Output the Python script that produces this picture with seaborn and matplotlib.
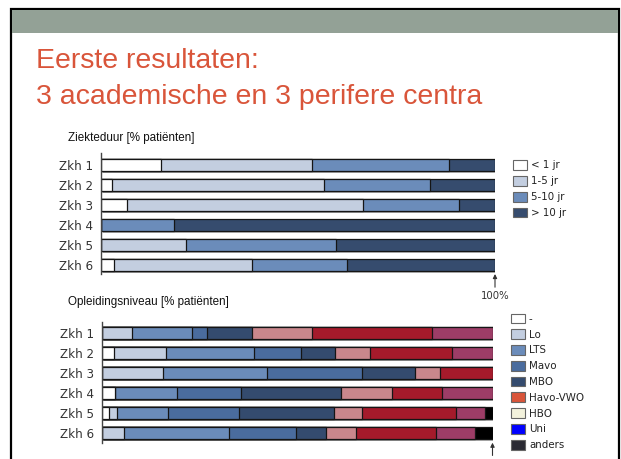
import matplotlib
matplotlib.use("Agg")
import matplotlib.pyplot as plt
import matplotlib.patheffects as pe
from matplotlib.patches import Patch, Rectangle
import seaborn as sns
import numpy as np

# ---------------- data ----------------
hospitals = ["Zkh 1", "Zkh 2", "Zkh 3", "Zkh 4", "Zkh 5", "Zkh 6"]

# Ziekteduur [% patiënten]
dur_labels = ["< 1 jr", "1-5 jr", "5-10 jr", "> 10 jr"]
dur_lt1 = [15.2, 2.9, 6.6, 0.0, 0.0, 3.3]
dur_1_5 = [38.4, 53.7, 60.0, 0.0, 21.7, 35.1]
dur_5_10 = [34.8, 26.8, 24.3, 18.7, 38.1, 24.2]
dur_gt10 = [11.6, 16.6, 9.1, 81.3, 40.2, 37.4]
dur_colors = ["#ffffff", "#c3cee0", "#6b8cba", "#364c6e"]

# Opleidingsniveau [% patiënten]
edu_labels = ["-", "Lo", "LTS", "Mavo", "MBO", "Havo-VWO", "HBO", "Uni", "anders"]
edu_none = [0.0, 3.0, 0.0, 3.3, 1.9, 0.0]
edu_lo = [7.6, 13.4, 15.5, 0.0, 2.0, 5.6]
edu_lts = [15.4, 22.4, 26.8, 16.0, 12.9, 27.0]
edu_mavo = [3.9, 12.1, 24.4, 16.2, 18.4, 17.0]
edu_mbo = [11.4, 8.8, 13.4, 25.8, 24.2, 7.8]
edu_havo = [15.5, 9.0, 6.5, 12.9, 7.3, 7.7]
edu_hbo = [30.8, 20.9, 13.4, 12.9, 23.9, 20.4]
edu_uni = [15.4, 10.4, 0.0, 12.9, 7.5, 9.9]
edu_anders = [0.0, 0.0, 0.0, 0.0, 1.9, 4.6]
edu_bar_colors = ["#ffffff", "#c3cee0", "#6b8cba", "#4a6c9e", "#344b6e",
                  "#c9878c", "#a51a2b", "#9d3d67", "#000000"]
edu_legend_colors = ["#ffffff", "#c3cee0", "#6b8cba", "#4a6c9e", "#344b6e",
                     "#d9553a", "#f3f2dc", "#0000ff", "#2a2a33"]

# ---------------- figure ----------------
sns.set_theme(style="white")
plt.rcParams["font.family"] = ["DejaVu Sans"]

W, H = 621, 459
fig = plt.figure(figsize=(W / 100, H / 100), dpi=100)
fig.patch.set_facecolor("white")


def fx(px):
    return px / W


def fy(py):
    return 1 - py / H


# slide frame and header band
fig.patches.append(Rectangle((fx(11), fy(475)), (618.5 - 11) / W, (475 - 9) / H,
                             transform=fig.transFigure, fill=False,
                             edgecolor="black", lw=1.6, zorder=0))
fig.patches.append(Rectangle((fx(12), fy(33)), (618 - 12) / W, (33 - 10) / H,
                             transform=fig.transFigure, facecolor="#93a196",
                             edgecolor="none", zorder=0))

title_color = "#d9553a"
fig.text(fx(36), fy(68), "Eerste resultaten:", fontsize=20.5, color=title_color,
         family=["Liberation Sans", "DejaVu Sans"], va="baseline")
fig.text(fx(36), fy(104), "3 academische en 3 perifere centra", fontsize=20.5,
         color=title_color, family=["Liberation Sans", "DejaVu Sans"], va="baseline")

fig.text(fx(68), fy(138), "Ziekteduur [% patiënten]", fontsize=8.4, color="#111111",
         family=["Liberation Sans", "DejaVu Sans"], va="center")
fig.text(fx(68), fy(302), "Opleidingsniveau [% patiënten]", fontsize=8.4, color="#111111",
         family=["Liberation Sans", "DejaVu Sans"], va="center")


def stacked(ax, series, colors):
    arr = np.array(series, dtype=float)
    cum = np.cumsum(arr, axis=0)
    first = True
    for k in range(len(series) - 1, -1, -1):
        n_before = len(ax.patches)
        sns.barplot(x=cum[k], y=hospitals, orient="h", color=colors[k],
                    saturation=1, edgecolor="#151515", linewidth=0.9,
                    width=0.6, ax=ax)
        if first:
            for p in ax.patches[n_before:]:
                p.set_path_effects([pe.SimplePatchShadow(offset=(1.4, -1.6),
                                                         shadow_rgbFace="#9a9a9a",
                                                         alpha=0.7),
                                    pe.Normal()])
            first = False
    ax.set_xlim(0, 100)
    ax.set_xlabel("")
    ax.set_ylabel("")
    ax.set_xticks([])
    for s in ["top", "right", "bottom"]:
        ax.spines[s].set_visible(False)
    ax.spines["left"].set_color("#444444")
    ax.spines["left"].set_linewidth(1.0)
    ax.tick_params(axis="y", length=0, pad=5.5, labelsize=8.6, labelcolor="#333333")
    ax.set_facecolor("none")


ax1 = fig.add_axes([fx(100.6), fy(274), (495 - 100.6) / W, (274 - 153) / H])
stacked(ax1, [dur_lt1, dur_1_5, dur_5_10, dur_gt10], dur_colors)
ax1.set_ylim(5.47, -0.58)

ax2 = fig.add_axes([fx(102), fy(442.7), (492.5 - 102) / W, (442.7 - 321.7) / H])
stacked(ax2, [edu_none, edu_lo, edu_lts, edu_mavo, edu_mbo, edu_havo, edu_hbo,
              edu_uni, edu_anders], edu_bar_colors)
ax2.set_ylim(5.5, -0.55)

# 100% arrows
arrow_kw = dict(arrowstyle="-|>", color="#333333", lw=0.8, mutation_scale=6,
                shrinkA=0, shrinkB=0)
ax1.annotate("", xy=(100, 0), xycoords=("data", "axes fraction"),
             xytext=(0, -9.5), textcoords="offset points", arrowprops=arrow_kw,
             annotation_clip=False)
ax1.annotate("100%", xy=(100, 0), xycoords=("data", "axes fraction"),
             xytext=(0, -16), textcoords="offset points", ha="center", va="center",
             fontsize=7.3, color="#333333", annotation_clip=False)
ax2.annotate("", xy=(100, 0), xycoords=("data", "axes fraction"),
             xytext=(0, -9.2), textcoords="offset points", arrowprops=arrow_kw,
             annotation_clip=False)

# legends
leg_kw = dict(loc="upper left", frameon=False, fontsize=7.4, borderpad=0,
              borderaxespad=0, handlelength=1.4, handleheight=1.1,
              handletextpad=0.35, labelcolor="#222222")
h1 = [Patch(facecolor=c, edgecolor="#666666", lw=0.8) for c in dur_colors]
fig.legend(h1, dur_labels, bbox_to_anchor=(fx(513), fy(160)), labelspacing=0.53,
           **leg_kw)
h2 = [Patch(facecolor=c, edgecolor="#666666", lw=0.8) for c in edu_legend_colors]
fig.legend(h2, edu_labels, bbox_to_anchor=(fx(511), fy(313.5)), labelspacing=0.52,
           **leg_kw)

fig.savefig("out.png", dpi=100)
